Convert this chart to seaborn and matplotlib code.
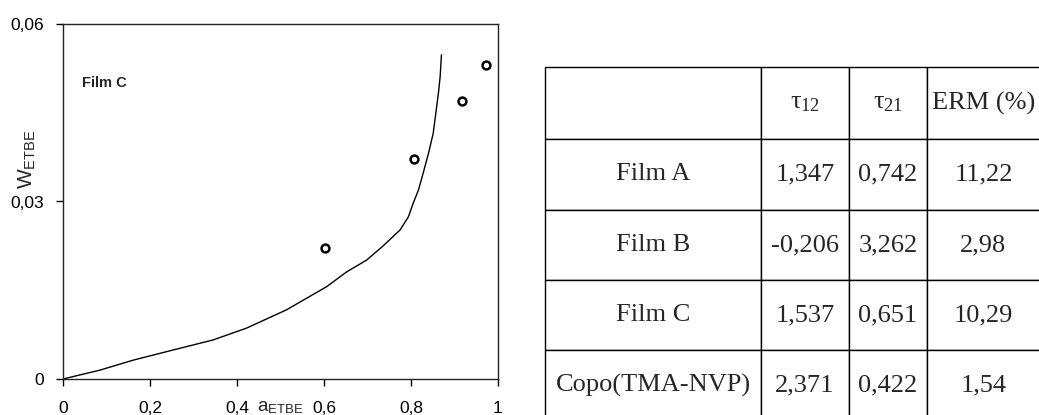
import matplotlib
matplotlib.use("Agg")
import matplotlib.pyplot as plt
import pandas as pd
import seaborn as sns

# fitted sorption curve (Film C)
curve_a = [0.0, 0.085, 0.162, 0.253, 0.345, 0.422, 0.514, 0.606, 0.652, 0.698, 0.736,
           0.775, 0.794, 0.805, 0.817, 0.828, 0.840, 0.851, 0.857, 0.863, 0.867, 0.870]
curve_w = [0.0, 0.0015, 0.0032, 0.0049, 0.0066, 0.0086, 0.0117, 0.0156, 0.0181, 0.0201, 0.0225,
           0.0252, 0.0274, 0.0297, 0.0319, 0.0348, 0.0381, 0.0415, 0.0449, 0.0483, 0.0511, 0.0548]

# experimental points
exp_a = [0.602, 0.808, 0.918, 0.972]
exp_w = [0.0221, 0.0371, 0.047, 0.053]

x_ticks = [0, 0.2, 0.4, 0.6, 0.8, 1.0]
x_labels = ["0", "0,2", "0,4", "0,6", "0,8", "1"]
y_ticks = [0, 0.03, 0.06]
y_labels = ["0", "0,03", "0,06"]

# table content
row_names = ["Film A", "Film B", "Film C", "Copo(TMA-NVP)"]
tau12 = ["1,347", "-0,206", "1,537", "2,371"]
tau21 = ["0,742", "3,262", "0,651", "0,422"]
erm = ["11,22", "2,98", "10,29", "1,54"]
header = ["", r"$\tau_{12}$", r"$\tau_{21}$", "ERM (%)"]

sns.set_style("ticks")
plt.rcParams["font.family"] = ["Liberation Sans", "DejaVu Sans"]
plt.rcParams["mathtext.fontset"] = "custom"
plt.rcParams["mathtext.rm"] = "Liberation Serif"
plt.rcParams["mathtext.it"] = "Liberation Serif"
plt.rcParams["mathtext.sf"] = "Liberation Sans"

W, H = 1039, 415
fig = plt.figure(figsize=(W / 100, H / 100), dpi=100)

ax = fig.add_axes([63 / W, 1 - 379 / H, 435 / W, 355 / H])
curve_df = pd.DataFrame({"a": curve_a, "w": curve_w})
exp_df = pd.DataFrame({"a": exp_a, "w": exp_w})
sns.lineplot(data=curve_df, x="a", y="w", ax=ax, color="black", linewidth=1.0,
             sort=False, estimator=None)
sns.scatterplot(data=exp_df, x="a", y="w", ax=ax, marker="o", s=32,
                facecolor="white", edgecolor="black", linewidth=1.8, zorder=3)

ax.set_xlim(0, 1)
ax.set_ylim(0, 0.06)
ax.set_xticks(x_ticks)
ax.set_xticklabels(x_labels, fontsize=12.5)
ax.set_yticks(y_ticks)
ax.set_yticklabels(y_labels, fontsize=12.5)
ax.tick_params(direction="out", length=5, width=1, colors="black")
ax.tick_params(axis="x", pad=11)
ax.tick_params(axis="y", pad=9)
ax.set_xlabel("")
ax.set_ylabel("")
for sp in ax.spines.values():
    sp.set_visible(True)
    sp.set_linewidth(1.0)
    sp.set_color("#222222")

ax.text(0.5, -0.08, r"a$_{\mathsf{ETBE}}$", transform=ax.transAxes,
        ha="center", va="center", fontsize=13.5)
ax.text(-0.085, 0.62, r"W$_{\mathsf{ETBE}}$", transform=ax.transAxes,
        ha="center", va="center", rotation=90, fontsize=15)
ax.text(0.043, 0.05, "Film C", fontsize=10.5, fontweight="bold", va="center")

# table on the right
tab_left, tab_top = 545, 67
col_w = [216, 88, 78, 113]
row_h = [72, 71, 70, 70, 70]
tab_ax = fig.add_axes([tab_left / W, 1 - (tab_top + sum(row_h)) / H,
                       sum(col_w) / W, sum(row_h) / H])
tab_ax.axis("off")
cells = [[row_names[i], tau12[i], tau21[i], erm[i]] for i in range(len(row_names))]
table = tab_ax.table(cellText=[header] + cells, cellLoc="center", bbox=[0, 0, 1, 1])
table.auto_set_font_size(False)
for (r, c), cell in table.get_celld().items():
    cell.set_width(col_w[c] / sum(col_w))
    cell.set_height(row_h[r] / sum(row_h))
    cell.set_linewidth(1.0)
    cell.set_edgecolor("black")
    cell.PAD = 0.02
    cell.get_text().set_fontsize(19)
    cell.get_text().set_fontfamily("Liberation Serif")

fig.savefig("out.png", dpi=100)
